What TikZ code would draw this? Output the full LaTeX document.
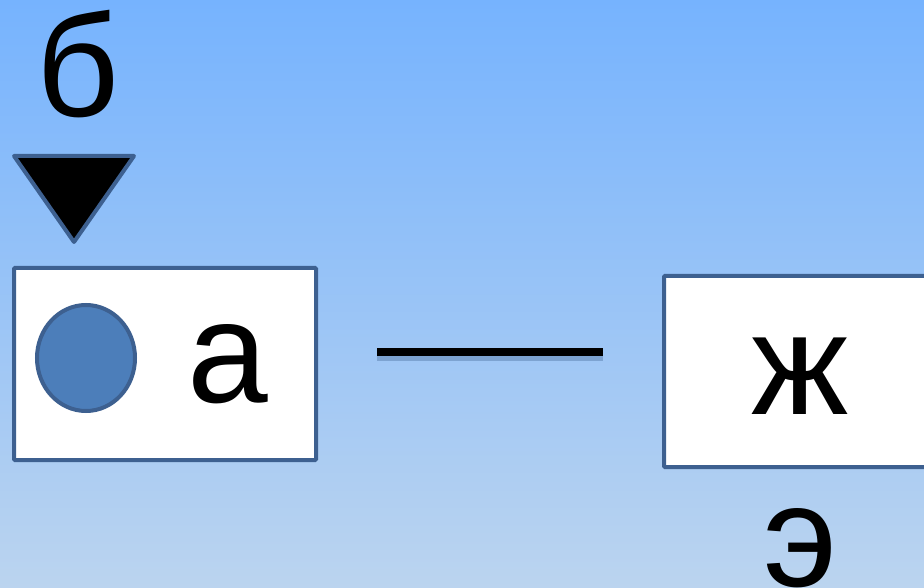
\documentclass[tikz,border=0pt]{standalone}
\usepackage{fontspec}
\setmainfont{Liberation Sans}
\definecolor{bordc}{HTML}{3D6090}
\definecolor{circc}{HTML}{4C7EBA}
\definecolor{bgtop}{HTML}{76B3FE}
\definecolor{bgmid}{HTML}{8EC2F8}
\definecolor{bgbot}{HTML}{BBD4EF}
\begin{document}
\begin{tikzpicture}[x=1pt,y=-1pt,
  boxst/.style={draw=bordc,line width=4pt,fill=white,rounded corners=1pt},
  bigtxt/.style={font=\fontsize{145}{145}\selectfont,inner sep=0pt,anchor=base}]
\shade[top color=bgtop,middle color=bgmid,bottom color=bgbot] (0,0) rectangle (924,588);
\useasboundingbox (0,0) rectangle (924,588);
\node[bigtxt] (b) at (78,117) {б};
\draw[bordc,line width=4pt,line join=round,fill=black] (14,156) -- (134,156) -- (74,242) -- cycle;
\draw[boxst] (14,268) rectangle (316,460);
\draw[bordc,line width=4pt,fill=circc] (86,358) ellipse (49 and 53);
\node[bigtxt] (a) at (228,402) {а};
\draw[boxst] (664,276) rectangle (940,467);
\node[bigtxt] (zh) at (800,414) {ж};
\node[bigtxt] (e) at (800,586) {э};
\coordinate (l1) at (377,352);
\coordinate (l2) at (603,352);
\draw[bordc,opacity=0.35,line width=10pt] ([yshift=-4pt]l1) -- ([yshift=-4pt]l2);
\draw[black,line width=8pt] (l1) -- (l2);
\end{tikzpicture}
\end{document}
